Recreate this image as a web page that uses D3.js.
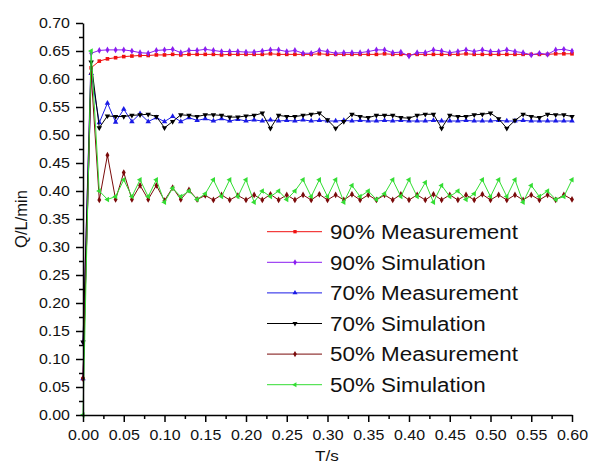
<!DOCTYPE html>
<html>
<head>
    <meta charset="utf-8">
    <title>Q vs T</title>
    <script src="https://cdn.jsdelivr.net/npm/d3@7"></script>
    <style>
        body { margin: 0; background: #fff; }
        svg text { font-family: "Liberation Sans", Arial, sans-serif; fill: #111; }
        g.axis path.domain, g.axis line { stroke: #000; stroke-width: 1.5; }
        path.series { fill: none; stroke-width: 1; }
    </style>
</head>
<body>
<script>
// sample times (s)
var times = [0.00,0.01,0.02,0.03,0.04,0.05,0.06,0.07,0.08,0.09,
             0.10,0.11,0.12,0.13,0.14,0.15,0.16,0.17,0.18,0.19,
             0.20,0.21,0.22,0.23,0.24,0.25,0.26,0.27,0.28,0.29,
             0.30,0.31,0.32,0.33,0.34,0.35,0.36,0.37,0.38,0.39,
             0.40,0.41,0.42,0.43,0.44,0.45,0.46,0.47,0.48,0.49,
             0.50,0.51,0.52,0.53,0.54,0.55,0.56,0.57,0.58,0.59,
             0.60];

var meas90 = [0.065,0.620,0.632,0.636,0.638,0.640,0.641,0.642,0.642,0.643,
              0.643,0.644,0.643,0.644,0.644,0.644,0.644,0.643,0.644,0.644,
              0.644,0.644,0.644,0.645,0.644,0.644,0.644,0.644,0.644,0.645,
              0.644,0.644,0.644,0.644,0.644,0.644,0.644,0.645,0.644,0.644,
              0.643,0.644,0.644,0.644,0.644,0.644,0.644,0.645,0.644,0.644,
              0.644,0.644,0.644,0.644,0.644,0.644,0.644,0.644,0.645,0.645,
              0.645];

var sim90 = [0.130,0.646,0.651,0.652,0.652,0.652,0.650,0.647,0.646,0.651,
             0.652,0.653,0.647,0.651,0.651,0.653,0.651,0.649,0.649,0.649,
             0.648,0.648,0.650,0.652,0.652,0.649,0.651,0.646,0.646,0.651,
             0.649,0.646,0.647,0.647,0.647,0.649,0.652,0.652,0.647,0.648,
             0.641,0.647,0.647,0.652,0.650,0.647,0.649,0.652,0.649,0.652,
             0.649,0.649,0.652,0.649,0.647,0.643,0.646,0.644,0.652,0.653,
             0.650];

var meas70 = [0.065,0.610,0.522,0.557,0.523,0.546,0.524,0.538,0.524,0.531,
              0.524,0.533,0.524,0.531,0.526,0.529,0.525,0.529,0.525,0.528,
              0.525,0.527,0.525,0.527,0.525,0.526,0.525,0.527,0.525,0.526,
              0.525,0.525,0.526,0.525,0.526,0.525,0.525,0.526,0.525,0.526,
              0.525,0.525,0.525,0.526,0.525,0.525,0.525,0.526,0.525,0.525,
              0.525,0.526,0.525,0.525,0.526,0.525,0.525,0.525,0.525,0.525,
              0.525];

var sim70 = [0.130,0.630,0.513,0.534,0.533,0.533,0.535,0.536,0.537,0.533,
             0.513,0.524,0.536,0.535,0.533,0.536,0.536,0.535,0.532,0.532,
             0.534,0.535,0.539,0.512,0.535,0.533,0.533,0.535,0.537,0.539,
             0.527,0.512,0.524,0.537,0.533,0.531,0.535,0.535,0.535,0.531,
             0.530,0.535,0.537,0.537,0.512,0.535,0.533,0.533,0.536,0.537,
             0.539,0.529,0.512,0.526,0.537,0.533,0.531,0.537,0.536,0.536,
             0.533];

var meas50 = [0.065,0.610,0.384,0.464,0.385,0.433,0.385,0.410,0.385,0.410,
              0.383,0.406,0.385,0.402,0.385,0.392,0.384,0.393,0.384,0.392,
              0.384,0.393,0.384,0.394,0.384,0.393,0.384,0.393,0.384,0.394,
              0.384,0.393,0.384,0.394,0.384,0.393,0.384,0.393,0.384,0.394,
              0.384,0.393,0.384,0.394,0.384,0.393,0.384,0.393,0.384,0.394,
              0.384,0.393,0.384,0.393,0.384,0.393,0.384,0.393,0.384,0.393,
              0.385];

var sim50 = [0.000,0.650,0.400,0.385,0.390,0.420,0.390,0.420,0.390,0.420,
             0.380,0.405,0.390,0.400,0.385,0.395,0.420,0.390,0.420,0.390,
             0.420,0.380,0.400,0.390,0.400,0.385,0.400,0.420,0.390,0.420,
             0.390,0.420,0.380,0.410,0.390,0.400,0.385,0.395,0.420,0.390,
             0.420,0.390,0.415,0.380,0.410,0.390,0.400,0.385,0.395,0.420,
             0.390,0.420,0.390,0.420,0.380,0.410,0.390,0.400,0.385,0.390,
             0.420];

var seriesNames = ["90% Measurement", "90% Simulation", "70% Measurement",
                   "70% Simulation", "50% Measurement", "50% Simulation"];
var seriesValues = [meas90, sim90, meas70, sim70, meas50, sim50];
var seriesColors = ["#f01010", "#8a1cf0", "#1a1ae6", "#000000", "#7a0a0a", "#33dd33"];
var seriesSymbols = [
    {type: d3.symbolSquare, rot: 0},
    {type: d3.symbolDiamond, rot: 0},
    {type: d3.symbolTriangle, rot: 0},
    {type: d3.symbolTriangle, rot: 180},
    {type: d3.symbolDiamond, rot: 0},
    {type: d3.symbolTriangle, rot: -90}
];

var xTicks = [0, 0.05, 0.10, 0.15, 0.20, 0.25, 0.30, 0.35, 0.40, 0.45, 0.50, 0.55, 0.60];
var yTicks = [0, 0.05, 0.10, 0.15, 0.20, 0.25, 0.30, 0.35, 0.40, 0.45, 0.50, 0.55, 0.60, 0.65, 0.70];

var width = 589, height = 463,
    margins = {top: 23, left: 83, right: 17, bottom: 48};

var x = d3.scaleLinear().domain([0, 0.60]).range([margins.left, width - margins.right]);
var y = d3.scaleLinear().domain([0, 0.70]).range([height - margins.bottom, margins.top]);

var svg = d3.select("body").append("svg")
        .attr("width", width)
        .attr("height", height);

// widen glyphs a bit, the source image is stretched horizontally
function stretch(sel, k) {
    sel.each(function () {
        var w = this.getComputedTextLength();
        d3.select(this)
            .attr("textLength", w * k)
            .attr("lengthAdjust", "spacingAndGlyphs");
    });
}

function midpoints(ticks) {
    var m = [];
    for (var i = 0; i < ticks.length - 1; i++) m.push((ticks[i] + ticks[i + 1]) / 2);
    return m;
}

function renderAxes() {
    var xMinor = svg.append("g")
            .attr("class", "axis")
            .attr("transform", "translate(0," + y(0) + ")")
            .call(d3.axisBottom(x).tickValues(midpoints(xTicks)).tickSize(4).tickFormat(""));
    xMinor.select("path.domain").remove();

    var yMinor = svg.append("g")
            .attr("class", "axis")
            .attr("transform", "translate(" + x(0) + ",0)")
            .call(d3.axisLeft(y).tickValues(midpoints(yTicks)).tickSize(4).tickFormat(""));
    yMinor.select("path.domain").remove();

    svg.append("g")
            .attr("class", "axis x")
            .attr("transform", "translate(0," + y(0) + ")")
            .call(d3.axisBottom(x)
                .tickValues(xTicks)
                .tickSize(7)
                .tickSizeOuter(0)
                .tickPadding(8)
                .tickFormat(d3.format(".2f")));

    svg.append("g")
            .attr("class", "axis y")
            .attr("transform", "translate(" + x(0) + ",0)")
            .call(d3.axisLeft(y)
                .tickValues(yTicks)
                .tickSize(7)
                .tickSizeOuter(0)
                .tickPadding(6)
                .tickFormat(d3.format(".2f")));

    svg.selectAll("g.axis text")
            .style("font-size", "14px")
            .style("font-family", "'Liberation Sans', Arial, sans-serif")
            .attr("fill", "#111");
    stretch(svg.selectAll("g.axis text"), 1.14);

    var xTitle = svg.append("text")
            .attr("x", 327)
            .attr("y", 461)
            .attr("text-anchor", "middle")
            .style("font-size", "15px")
            .text("T/s");
    stretch(xTitle, 1.14);

    svg.append("text")
            .attr("transform", "translate(27," + 219 + ") rotate(-90)")
            .attr("text-anchor", "middle")
            .style("font-size", "16.5px")
            .text("Q/L/min");
}

function renderSeries() {
    var line = d3.line()
            .x(function (d) { return x(d.t); })
            .y(function (d) { return y(d.v); });

    seriesValues.forEach(function (vals, k) {
        var pts = vals.map(function (v, i) { return {t: times[i], v: v}; });
        var g = svg.append("g").attr("class", "series-g");

        g.append("path")
                .datum(pts)
                .attr("class", "series")
                .attr("stroke", seriesColors[k])
                .attr("d", line);

        var sym = d3.symbol().type(seriesSymbols[k].type).size(13);
        g.selectAll("path.marker")
                .data(pts)
                .enter()
                .append("path")
                .attr("class", "marker")
                .attr("fill", seriesColors[k])
                .attr("transform", function (d) {
                    return "translate(" + x(d.t) + "," + y(d.v) + ") rotate(" + seriesSymbols[k].rot + ")";
                })
                .attr("d", sym);
    });
}

function renderLegend() {
    var rowH = 30.6, top = 231.7;
    var legend = svg.append("g").attr("class", "legend");

    seriesNames.forEach(function (name, k) {
        var cy = top + k * rowH;
        legend.append("line")
                .attr("x1", 267).attr("x2", 322)
                .attr("y1", cy).attr("y2", cy)
                .attr("stroke", seriesColors[k])
                .attr("stroke-width", 1);
        legend.append("path")
                .attr("fill", seriesColors[k])
                .attr("transform", "translate(295," + cy + ") rotate(" + seriesSymbols[k].rot + ")")
                .attr("d", d3.symbol().type(seriesSymbols[k].type).size(11));
        var t = legend.append("text")
                .attr("x", 330)
                .attr("y", cy + 7.3)
                .style("font-size", "20px")
                .text(name);
        stretch(t, 1.12);
    });
}

renderSeries();
renderAxes();
renderLegend();
</script>
</body>
</html>
